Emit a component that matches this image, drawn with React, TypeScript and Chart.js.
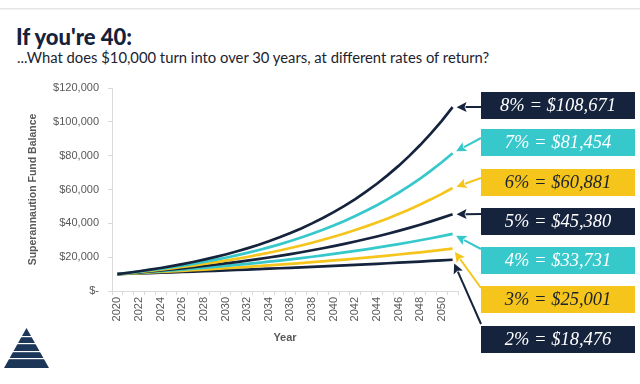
import React, { useEffect, useRef } from "react";
import { Chart, registerables } from "chart.js";

Chart.register(...registerables);

// ---------- data ----------
const years = [
  "2020", "2021", "2022", "2023", "2024", "2025", "2026", "2027", "2028", "2029",
  "2030", "2031", "2032", "2033", "2034", "2035", "2036", "2037", "2038", "2039",
  "2040", "2041", "2042", "2043", "2044", "2045", "2046", "2047", "2048", "2049",
  "2050", "2051",
];

const rateLabels = ["8%", "7%", "6%", "5%", "4%", "3%", "2%"];

const balance8 = [10000, 10800, 11664, 12597, 13605, 14693, 15869, 17138, 18509, 19990, 21589, 23316, 25182, 27196, 29372, 31722, 34259, 37000, 39960, 43157, 46610, 50338, 54365, 58715, 63412, 68485, 73964, 79881, 86271, 93173, 100627, 108671];
const balance7 = [10000, 10700, 11449, 12250, 13108, 14026, 15007, 16058, 17182, 18385, 19672, 21049, 22522, 24098, 25785, 27590, 29522, 31588, 33799, 36165, 38697, 41406, 44304, 47405, 50724, 54274, 58074, 62139, 66488, 71143, 76123, 81454];
const balance6 = [10000, 10600, 11236, 11910, 12625, 13382, 14185, 15036, 15938, 16895, 17908, 18983, 20122, 21329, 22609, 23966, 25404, 26928, 28543, 30256, 32071, 33996, 36035, 38197, 40489, 42919, 45494, 48223, 51117, 54184, 57435, 60881];
const balance5 = [10000, 10500, 11025, 11576, 12155, 12763, 13401, 14071, 14775, 15513, 16289, 17103, 17959, 18856, 19799, 20789, 21829, 22920, 24066, 25270, 26533, 27860, 29253, 30715, 32251, 33864, 35557, 37335, 39201, 41161, 43219, 45380];
const balance4 = [10000, 10400, 10816, 11249, 11699, 12167, 12653, 13159, 13686, 14233, 14802, 15395, 16010, 16651, 17317, 18009, 18730, 19479, 20258, 21068, 21911, 22788, 23699, 24647, 25633, 26658, 27725, 28834, 29987, 31187, 32434, 33731];
const balance3 = [10000, 10300, 10609, 10927, 11255, 11593, 11941, 12299, 12668, 13048, 13439, 13842, 14258, 14685, 15126, 15580, 16047, 16528, 17024, 17535, 18061, 18603, 19161, 19736, 20328, 20938, 21566, 22213, 22879, 23566, 24273, 25001];
const balance2 = [10000, 10200, 10404, 10612, 10824, 11041, 11262, 11487, 11717, 11951, 12190, 12434, 12682, 12936, 13195, 13459, 13728, 14002, 14282, 14568, 14859, 15157, 15460, 15769, 16084, 16406, 16734, 17069, 17410, 17758, 18114, 18476];

const allSeries = [balance8, balance7, balance6, balance5, balance4, balance3, balance2];

// ---------- styles ----------
const NAVY = "#15233d";
const CYAN = "#36c8ca";
const YELLOW = "#f5c51c";
const lineColors = [NAVY, CYAN, YELLOW, NAVY, CYAN, YELLOW, NAVY];
const boxTextColors = ["#ffffff", "#ffffff", "#1c2230", "#ffffff", "#ffffff", "#1c2230", "#ffffff"];
const boxTops = [92, 129, 169, 208, 247, 286, 326];
const arrowStartY = [107, 138, 178, 214, 249, 288, 324];
const BOX_X = 481;
const BOX_W = 154;
const BOX_H = 27;

const fmtMoney = (v: number) => "$" + Math.round(v).toLocaleString("en-US");

const calloutPlugin = {
  id: "callouts",
  afterDatasetsDraw(chart: any) {
    const ctx = chart.ctx as CanvasRenderingContext2D;
    ctx.save();
    chart.data.datasets.forEach((ds: any, i: number) => {
      const meta = chart.getDatasetMeta(i);
      const pt = meta.data[meta.data.length - 1];
      const ex = pt.x;
      const ey = pt.y;
      const sx = BOX_X;
      const sy = arrowStartY[i];
      let dx = sx - ex;
      let dy = sy - ey;
      const len = Math.hypot(dx, dy);
      dx /= len;
      dy /= len;
      const tipX = ex + dx * 4;
      const tipY = ey + dy * 4;
      const headL = 10;
      const headW = 5;
      const baseX = tipX + dx * headL;
      const baseY = tipY + dy * headL;
      const color = lineColors[i];
      ctx.strokeStyle = color;
      ctx.fillStyle = color;
      ctx.lineWidth = 2;
      ctx.beginPath();
      ctx.moveTo(sx, sy);
      ctx.lineTo(baseX - dx * 1, baseY - dy * 1);
      ctx.stroke();
      ctx.beginPath();
      ctx.moveTo(tipX, tipY);
      ctx.lineTo(baseX - dy * headW, baseY + dx * headW);
      ctx.lineTo(baseX + dx * -2, baseY + dy * -2);
      ctx.lineTo(baseX + dy * headW, baseY - dx * headW);
      ctx.closePath();
      ctx.fill();

      // box
      const top = boxTops[i];
      ctx.fillStyle = color;
      ctx.fillRect(BOX_X, top, BOX_W, BOX_H);
      ctx.fillStyle = boxTextColors[i];
      ctx.font = "italic 18.5px 'Liberation Serif', 'DejaVu Serif', serif";
      ctx.textAlign = "center";
      ctx.textBaseline = "middle";
      const vals = ds.data as number[];
      ctx.fillText(`${ds.label} = ${fmtMoney(vals[vals.length - 1])}`, BOX_X + BOX_W / 2, top + BOX_H / 2 + 1);
    });
    ctx.restore();
  },
};

export default function App() {
  const canvasRef = useRef<HTMLCanvasElement | null>(null);

  useEffect(() => {
    if (!canvasRef.current) return;
    const tickFont = { family: "'Liberation Sans', Arial, sans-serif", size: 11 };
    const chart = new Chart(canvasRef.current, {
      type: "line",
      data: {
        labels: years,
        datasets: allSeries.map((s, i) => ({
          label: rateLabels[i],
          data: s,
          borderColor: lineColors[i],
          backgroundColor: lineColors[i],
          borderWidth: 2.7,
          pointRadius: 0,
          tension: 0,
          fill: false,
        })),
      },
      options: {
        animation: false,
        responsive: false,
        devicePixelRatio: 1,
        layout: { padding: { left: 23, right: 182, top: 88, bottom: 35 } },
        plugins: {
          legend: { display: false },
          tooltip: { enabled: false },
          title: { display: false },
        },
        scales: {
          x: {
            type: "category",
            offset: true,
            border: { display: true, color: "#d9d9d9", width: 1 },
            grid: {
              display: true,
              drawOnChartArea: false,
              drawTicks: true,
              tickLength: 4,
              color: "#d9d9d9",
              offset: true,
            },
            ticks: {
              autoSkip: false,
              minRotation: 90,
              maxRotation: 90,
              padding: 2,
              color: "#595959",
              font: tickFont,
              callback: (_v: any, idx: number) => (idx % 2 === 0 ? years[idx] : ""),
            },
            title: {
              display: true,
              text: "Year",
              color: "#595959",
              font: { family: "'Liberation Sans', Arial, sans-serif", size: 11, weight: "bold" },
              padding: { top: 4, bottom: 4 },
            },
            afterFit: (scale: any) => {
              scale.height = 58;
            },
          },
          y: {
            min: 0,
            max: 120000,
            border: { display: true, color: "#d9d9d9", width: 1 },
            grid: {
              display: true,
              drawOnChartArea: false,
              drawTicks: true,
              tickLength: 4,
              color: "#d9d9d9",
            },
            ticks: {
              stepSize: 20000,
              padding: 9,
              color: "#595959",
              font: tickFont,
              callback: (v: any) => (Number(v) === 0 ? "$-" : "$" + Number(v).toLocaleString("en-US")),
            },
            title: {
              display: true,
              text: "Superannaution Fund Balance",
              color: "#595959",
              font: { family: "'Liberation Sans', Arial, sans-serif", size: 10.5, weight: "bold" },
              padding: { top: 4, bottom: 4 },
            },
            afterFit: (scale: any) => {
              scale.width = 89;
            },
          },
        },
      },
      plugins: [calloutPlugin],
    } as any);
    return () => chart.destroy();
  }, []);

  return (
    <div
      style={{
        position: "fixed",
        left: 0,
        top: 0,
        width: 640,
        height: 384,
        background: "#ffffff",
        overflow: "hidden",
      }}
    >
      <div style={{ position: "absolute", left: 0, top: 8, width: 640, height: 1, background: "#e6e6e6" }} />
      <div style={{ position: "absolute", left: 0, top: 9, width: 640, height: 1, background: "#f3f3f3" }} />
      <div
        style={{
          position: "absolute",
          left: 16,
          top: 26,
          fontFamily: "Lato, 'Open Sans', sans-serif",
          fontWeight: 900,
          fontSize: 22,
          lineHeight: "22px",
          color: "#16213a",
          whiteSpace: "nowrap",
        }}
      >
        If you're 40:
      </div>
      <div
        style={{
          position: "absolute",
          left: 17,
          top: 50,
          fontFamily: "Lato, 'Open Sans', sans-serif",
          fontSize: 14.8,
          lineHeight: "15px",
          color: "#1c2330",
          whiteSpace: "nowrap",
        }}
      >
        ...What does $10,000 turn into over 30 years, at different rates of return?
      </div>
      <canvas ref={canvasRef} width={640} height={384} style={{ position: "absolute", left: 0, top: 0, width: 640, height: 384 }} />
      <svg width={60} height={50} viewBox="0 0 60 50" style={{ position: "absolute", left: 0, top: 325 }}>
        <polygon points="4,43 49,43 26.5,3" fill="#1b3657" />
        <rect x={0} y={11} width={60} height={1.2} fill="#ffffff" />
        <rect x={0} y={18} width={60} height={1.2} fill="#ffffff" />
        <rect x={0} y={26} width={60} height={1.2} fill="#ffffff" />
        <rect x={0} y={33} width={60} height={1.2} fill="#ffffff" />
      </svg>
    </div>
  );
}
